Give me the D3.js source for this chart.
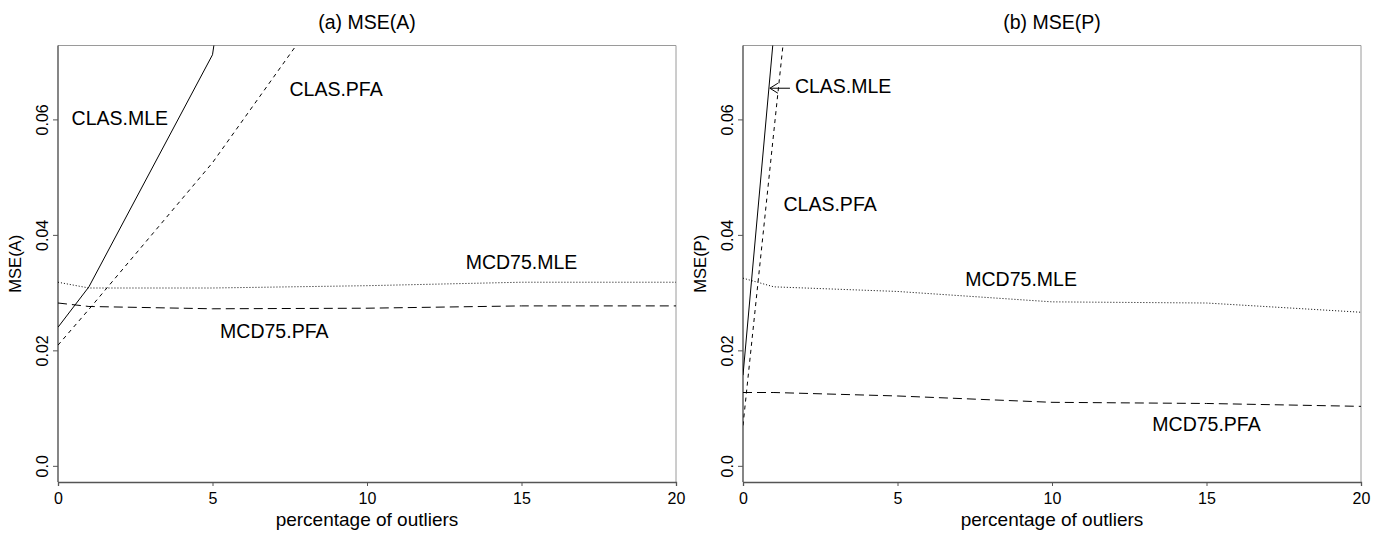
<!DOCTYPE html>
<html>
<head>
<meta charset="utf-8">
<script src="https://cdn.jsdelivr.net/npm/d3@7"></script>
<style>
  body { margin: 0; background: #fff; }
  svg { font-family: "Liberation Sans", Arial, Helvetica, sans-serif; }
</style>
</head>
<body>
<svg id="chart" width="1390" height="533"></svg>
<script>
// x values (percentage of outliers)
const pct = [0, 1, 5, 10, 15, 20];
const xTicks = [0, 5, 10, 15, 20];
const yTicks = [0, 0.02, 0.04, 0.06];
const yTickLabels = ['0.0', '0.02', '0.04', '0.06'];

// panel (a) MSE(A)
const clasMleA = [0.0240, 0.0310, 0.0712, 0.25, 0.40, 0.55];
const clasPfaA = [0.0209, 0.0271, 0.0525, 0.090, 0.13, 0.17];
const mcdMleA = [0.0318, 0.0308, 0.0308, 0.0312, 0.0318, 0.0318];
const mcdPfaA = [0.0282, 0.0276, 0.0272, 0.0273, 0.0277, 0.0277];

// panel (b) MSE(P)
const clasMleP = [0.0157, 0.075, 0.30, 0.50, 0.70, 0.90];
const clasPfaP = [0.0070, 0.058, 0.26, 0.45, 0.65, 0.85];
const mcdMleP = [0.0325, 0.0310, 0.0302, 0.0284, 0.0282, 0.0266];
const mcdPfaP = [0.0127, 0.0127, 0.0121, 0.0110, 0.0108, 0.0103];

// curve labels (data coordinates)
const labelsA = [
  { text: 'CLAS.MLE', x: 2, y: 0.060 },
  { text: 'CLAS.PFA', x: 9, y: 0.065 },
  { text: 'MCD75.MLE', x: 15, y: 0.035 },
  { text: 'MCD75.PFA', x: 7, y: 0.023 }
];
const labelsP = [
  { text: 'CLAS.MLE', x: 1.68, y: 0.0654, anchor: 'start' },
  { text: 'CLAS.PFA', x: 2.82, y: 0.045 },
  { text: 'MCD75.MLE', x: 9, y: 0.032 },
  { text: 'MCD75.PFA', x: 15, y: 0.007 }
];
const arrowP = { x1: 1.52, x2: 0.87, y: 0.0654 };

const styles = {
  clasMle: null,
  clasPfa: '4,4',
  mcdMle: '1,2',
  mcdPfa: '9,5'
};

const svg = d3.select('#chart');

// y range as R does it: ylim (0, 0.07) widened by 4%
const ylo = 0, yhi = 0.07, pad = (yhi - ylo) * 0.04;

function drawPanel(cfg) {
  const top = 45.5, bottom = 482;
  const x = d3.scaleLinear().domain([0, 20]).range([cfg.left, cfg.right]);
  const y = d3.scaleLinear().domain([ylo - pad, yhi + pad]).range([bottom, top]);

  const g = svg.append('g');

  // clip region
  svg.append('clipPath').attr('id', cfg.id)
    .append('rect')
    .attr('x', cfg.left).attr('y', top)
    .attr('width', cfg.right - cfg.left).attr('height', bottom - top);

  // frame (top / right lighter)
  g.append('line')
    .attr('x1', cfg.left).attr('x2', cfg.right)
    .attr('y1', top).attr('y2', top)
    .attr('stroke', '#9a9a9a');
  g.append('line')
    .attr('x1', cfg.right).attr('x2', cfg.right)
    .attr('y1', top).attr('y2', bottom)
    .attr('stroke', '#9a9a9a');

  // axes
  const xAxis = d3.axisBottom(x).tickValues(xTicks).tickSize(4).tickPadding(7)
    .tickFormat(d3.format('d'));
  const gx = g.append('g')
    .attr('transform', `translate(0,${bottom})`)
    .call(xAxis);
  gx.select('.domain').attr('stroke', '#555').attr('stroke-width', 1.3);
  gx.selectAll('.tick line').attr('stroke', '#555');
  gx.selectAll('.tick text')
    .attr('font-size', 16).attr('fill', '#000')
    .attr('font-family', '"Liberation Sans", Arial, sans-serif');

  const yAxis = d3.axisLeft(y).tickValues(yTicks).tickSize(5)
    .tickFormat((d, i) => yTickLabels[i]);
  const gy = g.append('g')
    .attr('transform', `translate(${cfg.left},0)`)
    .call(yAxis);
  gy.select('.domain').attr('d', `M0,${top}V${bottom}`)
    .attr('stroke', '#444').attr('stroke-width', 1.3);
  gy.selectAll('.tick line').attr('stroke', '#555');
  gy.selectAll('.tick text')
    .attr('font-size', 16).attr('fill', '#000')
    .attr('font-family', '"Liberation Sans", Arial, sans-serif')
    .attr('x', null).attr('dy', null)
    .attr('text-anchor', 'middle')
    .attr('transform', 'translate(-14,0) rotate(-90)')
    .attr('dominant-baseline', 'middle');

  // titles
  g.append('text')
    .attr('x', (cfg.left + cfg.right) / 2).attr('y', 29)
    .attr('text-anchor', 'middle').attr('font-size', 19.5)
    .text(cfg.title);
  g.append('text')
    .attr('x', (cfg.left + cfg.right) / 2).attr('y', 526)
    .attr('text-anchor', 'middle').attr('font-size', 19)
    .text('percentage of outliers');
  g.append('text')
    .attr('transform', `translate(${cfg.left - 41},${(top + bottom) / 2}) rotate(-90)`)
    .attr('text-anchor', 'middle').attr('dominant-baseline', 'middle')
    .attr('font-size', 16.5)
    .text(cfg.ylab);

  // curves
  const line = d3.line().x((d, i) => x(pct[i])).y(d => y(d));
  const lines = g.append('g').attr('clip-path', `url(#${cfg.id})`);
  cfg.series.forEach(s => {
    lines.append('path')
      .attr('d', line(s.values))
      .attr('fill', 'none')
      .attr('stroke', '#000')
      .attr('stroke-width', 1)
      .attr('stroke-dasharray', s.dash);
  });

  // labels
  g.selectAll('text.lbl')
    .data(cfg.labels)
    .enter()
    .append('text')
    .attr('class', 'lbl')
    .attr('x', d => x(d.x))
    .attr('y', d => y(d.y))
    .attr('text-anchor', d => d.anchor || 'middle')
    .attr('dominant-baseline', 'middle')
    .attr('font-size', 19.5)
    .text(d => d.text);

  if (cfg.arrow) {
    const a = cfg.arrow;
    const ex = x(a.x2), ey = y(a.y);
    g.append('line')
      .attr('x1', x(a.x1)).attr('x2', ex)
      .attr('y1', ey).attr('y2', ey)
      .attr('stroke', '#000');
    g.append('path')
      .attr('d', `M${ex + 8},${ey - 5}L${ex},${ey}L${ex + 8},${ey + 5}`)
      .attr('fill', 'none').attr('stroke', '#000');
  }
}

drawPanel({
  id: 'clipA', left: 58, right: 676,
  title: '(a) MSE(A)', ylab: 'MSE(A)',
  series: [
    { values: clasMleA, dash: styles.clasMle },
    { values: clasPfaA, dash: styles.clasPfa },
    { values: mcdMleA, dash: styles.mcdMle },
    { values: mcdPfaA, dash: styles.mcdPfa }
  ],
  labels: labelsA
});

drawPanel({
  id: 'clipP', left: 743, right: 1361,
  title: '(b) MSE(P)', ylab: 'MSE(P)',
  series: [
    { values: clasMleP, dash: styles.clasMle },
    { values: clasPfaP, dash: styles.clasPfa },
    { values: mcdMleP, dash: styles.mcdMle },
    { values: mcdPfaP, dash: styles.mcdPfa }
  ],
  labels: labelsP,
  arrow: arrowP
});
</script>
</body>
</html>
